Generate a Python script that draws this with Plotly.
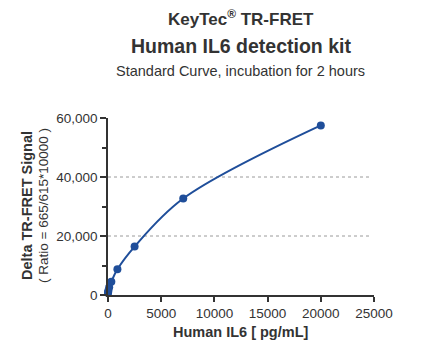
import plotly.graph_objects as go

# ---- data ----
conc = [0, 13.8, 39, 110.5, 312.5, 884, 2500, 7071, 20000]
signal = [700, 1000, 1500, 2600, 4500, 8700, 16400, 32700, 57500]
grid_vals = [20000, 40000]
x_ticks = [0, 5000, 10000, 15000, 20000, 25000]
y_ticks = [0, 20000, 40000, 60000]

W, H = 426, 356
L, R, T, B = 108, 52, 118, 61
PH = H - T - B
PW = W - L - R

def py(p):
    return (H - B - p) / PH

def px(p):
    return (p - L) / PW

blue = "#1f4e9a"
dark = "#333333"
font = "Liberation Sans, Arial, sans-serif"

fig = go.Figure()
fig.add_trace(go.Scatter(
    x=conc, y=signal, mode="lines+markers",
    line=dict(color=blue, width=2, shape="spline", smoothing=1.0),
    marker=dict(color=blue, size=8),
    cliponaxis=False, showlegend=False, hoverinfo="skip"))

shapes = []
for g in grid_vals:
    shapes.append(dict(type="line", xref="paper", yref="y", x0=0, x1=0.99, y0=g, y1=g,
                       line=dict(color="#9a9a9a", width=1, dash="dot"), layer="below"))

annotations = [
    dict(text="<b>KeyTec<sup>®</sup> TR-FRET</b>", x=px(241), y=py(18), font=dict(size=17, color=dark)),
    dict(text="<b>Human IL6 detection kit</b>", x=px(241), y=py(46), font=dict(size=19.5, color=dark)),
    dict(text="Standard Curve, incubation for 2 hours", x=px(240), y=py(71), font=dict(size=14.5, color=dark)),
    dict(text="<b>Delta TR-FRET Signal</b>", x=px(27), y=py(206), textangle=-90, font=dict(size=14.5, color=dark)),
    dict(text="( Ratio = 665/615*10000 )", x=px(43), y=py(206), textangle=-90, font=dict(size=13.5, color=dark)),
    dict(text="<b>Human IL6 [ pg/mL]</b>", x=px(241), y=py(332), font=dict(size=14.5, color=dark)),
]
for a in annotations:
    a.update(xref="paper", yref="paper", showarrow=False, xanchor="center", yanchor="middle",
             font=dict(family=font, **a["font"]))

fig.update_layout(
    width=W, height=H, margin=dict(l=L, r=R, t=T, b=B),
    paper_bgcolor="white", plot_bgcolor="white",
    font=dict(family=font, color=dark, size=13.5),
    shapes=shapes, annotations=annotations,
    xaxis=dict(range=[0, 25000], tickvals=x_ticks, ticktext=[str(v) for v in x_ticks],
               showgrid=False, zeroline=False, showline=True, linecolor=dark, linewidth=1.5,
               ticks="outside", ticklen=5, tickwidth=1.5, tickcolor=dark,
               tickfont=dict(size=13.5, color=dark)),
    yaxis=dict(range=[0, 60000], tickvals=y_ticks, ticktext=[f"{v:,}" for v in y_ticks],
               showgrid=False, zeroline=False, showline=True, linecolor=dark, linewidth=1.5,
               ticks="outside", ticklen=6, tickwidth=1.5, tickcolor=dark,
               minor=dict(ticks="outside", tickvals=[10000, 30000, 50000], ticklen=4,
                          tickwidth=1.5, tickcolor=dark),
               tickfont=dict(size=13.5, color=dark)),
)

fig.write_html("out.html", config={"displayModeBar": False},
               post_script="document.body.style.margin='0';")
